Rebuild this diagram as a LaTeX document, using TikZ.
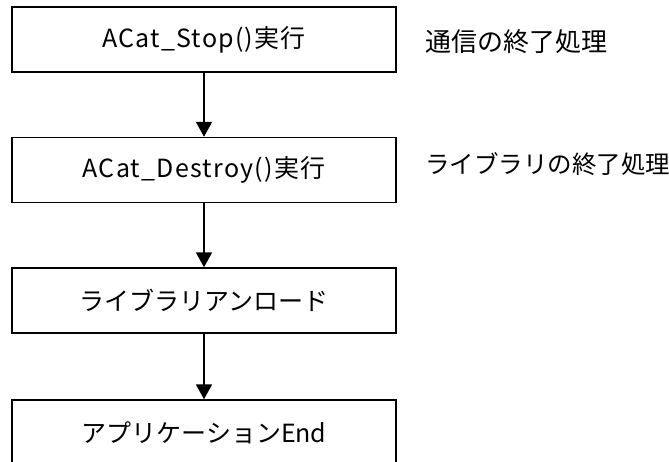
\documentclass[tikz,border=0pt]{standalone}
\usepackage{fontspec}
\setmainfont{Noto Sans CJK JP}
\usetikzlibrary{arrows.meta}
\begin{document}
\begin{tikzpicture}[x=1pt,y=-1pt,
  box/.style={draw=black,line width=1.5pt,fill=white,minimum width=384pt,minimum height=65pt,inner sep=0pt,font=\fontsize{25}{29}\selectfont},
  latin/.style={font=\fontsize{25}{29}\selectfont\addfontfeatures{LetterSpace=5}},
  note/.style={anchor=west,inner sep=0pt,font=\fontsize{24.5}{29}\selectfont},
  flow/.style={line width=2pt,-{Triangle[length=15pt,width=16pt]}}]
\useasboundingbox (0,0) rectangle (669,461);
\clip (0,0) rectangle (669,461);
\node[box,latin] (b1) at (204,39.5) {ACat\_Stop()実行};
\node[box,latin] (b2) at (204,170) {ACat\_Destroy()実行};
\node[box] (b3) at (204,300.5) {ライブラリアンロード};
\node[box] (b4) at (204,432.5) {アプリケーションEnd};
\node[note,font=\fontsize{26}{29}\selectfont] (n1) at (425,42) {通信の終了処理};
\node[note] (n2) at (425,164) {ライブラリの終了処理};
\draw[flow] (b1.south) -- (b2.north);
\draw[flow] (b2.south) -- (b3.north);
\draw[flow] (b3.south) -- (b4.north);
\end{tikzpicture}
\end{document}
